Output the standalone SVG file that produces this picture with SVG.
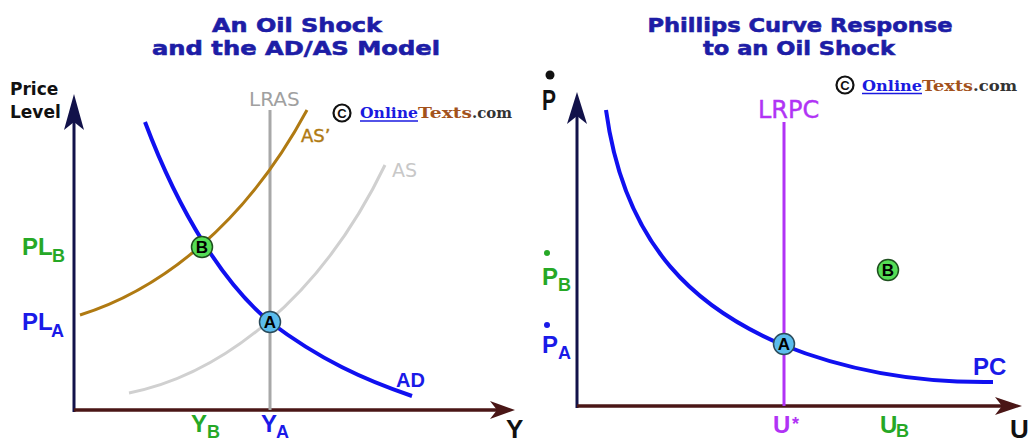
<svg xmlns="http://www.w3.org/2000/svg" width="1032" height="444" viewBox="0 0 1032 444">
<style>
.title{font-family:"DejaVu Sans",Verdana,sans-serif;font-weight:bold;font-size:20px;fill:#1d1da6;stroke:#1d1da6;stroke-width:0.6px;text-anchor:middle}
.lbl{font-family:"Liberation Sans",Arial,sans-serif;font-weight:bold}
.reg{font-family:"DejaVu Sans",Verdana,sans-serif}
.blue{fill:#1a1ae8}
.green{fill:#26a826}
.purple{fill:#b133f5}
.ax-y{stroke:#12124a;stroke-width:3;fill:none}
.ax-x{stroke:#4a1616;stroke-width:3.5;fill:none}
.pt-letter{font-family:"Liberation Sans",Arial,sans-serif;font-weight:bold;font-size:17px;fill:#000;text-anchor:middle}
.copy{font-family:"DejaVu Serif","Liberation Serif",serif;font-weight:bold;font-size:15px}
</style>

<rect width="1032" height="444" fill="#fff"/>

<!-- Titles -->
<g id="title-left">
<text class="title" x="297" y="32" textLength="170" lengthAdjust="spacingAndGlyphs">An Oil Shock</text>
<text class="title" x="296" y="55" textLength="288" lengthAdjust="spacingAndGlyphs">and the AD/AS Model</text>
</g>
<g id="title-right">
<text class="title" x="800" y="32" textLength="305" lengthAdjust="spacingAndGlyphs">Phillips Curve Response</text>
<text class="title" x="799" y="55" textLength="192" lengthAdjust="spacingAndGlyphs">to an Oil Shock</text>
</g>

<!-- Copyright logos -->
<g id="copyright-left">
<circle cx="342" cy="113" r="8.5" fill="none" stroke="#111" stroke-width="2.2"/>
<text x="342" y="118" class="lbl" font-size="13" text-anchor="middle" fill="#111">C</text>
<text class="copy" y="118"><tspan x="360" fill="#1a1ae0" textLength="58" lengthAdjust="spacingAndGlyphs">Online</tspan><tspan x="418" fill="#a3521c" textLength="54" lengthAdjust="spacingAndGlyphs">Texts</tspan><tspan x="472" fill="#333" textLength="40" lengthAdjust="spacingAndGlyphs">.com</tspan></text>
<line x1="360" y1="121" x2="418" y2="121" stroke="#1a1ae0" stroke-width="1.5"/>
</g>
<g id="copyright-right">
<circle cx="845" cy="85" r="8.5" fill="none" stroke="#111" stroke-width="2.2"/>
<text x="845" y="90" class="lbl" font-size="13" text-anchor="middle" fill="#111">C</text>
<text class="copy" y="90.5"><tspan x="862" fill="#1a1ae0" textLength="60" lengthAdjust="spacingAndGlyphs">Online</tspan><tspan x="922" fill="#a3521c" textLength="51" lengthAdjust="spacingAndGlyphs">Texts</tspan><tspan x="973" fill="#333" textLength="44" lengthAdjust="spacingAndGlyphs">.com</tspan></text>
<line x1="862" y1="93.5" x2="922" y2="93.5" stroke="#1a1ae0" stroke-width="1.5"/>
</g>

<!-- LEFT PANEL -->
<g id="left-axes">
<text class="reg" font-weight="bold" font-size="17" x="10" y="95" fill="#111">Price</text>
<text class="reg" font-weight="bold" font-size="17" x="10" y="118" fill="#111">Level</text>
<line class="ax-y" x1="74" y1="412" x2="74" y2="118"/>
<polygon points="74,94 64,130 74,122 84,130" fill="#12124a"/>
<line class="ax-x" x1="74" y1="410" x2="500" y2="410"/>
<polygon points="515,410 490,401 497,410 490,419" fill="#4a1616"/>
<text class="lbl" font-size="26" x="506" y="438" fill="#111" font-weight="normal">Y</text>
</g>

<g id="left-curves">
<line x1="270" y1="110" x2="270" y2="410" stroke="#a8a8a8" stroke-width="3"/>
<path d="M129,393 C220,375 320,300 385,165" fill="none" stroke="#d0d0d0" stroke-width="3"/>
<path d="M80,315 C160,290 245,225 307,110" fill="none" stroke="#b07a12" stroke-width="3"/>
<path d="M145,122 C180,215 225,285 270,322 C320,360 365,380 412,396" fill="none" stroke="#1010f0" stroke-width="4"/>
</g>

<g id="left-labels">
<text class="reg" font-size="20" x="249" y="106" fill="#a0a0a0">LRAS</text>
<text class="reg" font-size="18" x="301" y="142" fill="#b07a12" stroke="#b07a12" stroke-width="0.4">AS’</text>
<text class="reg" font-size="19" x="392" y="177" fill="#c8c8c8">AS</text>
<text class="lbl blue" font-size="20" x="396" y="387">AD</text>
<text class="lbl green" font-size="24"><tspan x="22" y="255">PL</tspan><tspan x="52" y="262" font-size="18">B</tspan></text>
<text class="lbl blue" font-size="24"><tspan x="22" y="330">PL</tspan><tspan x="51" y="337" font-size="18">A</tspan></text>
<text class="lbl green" font-size="24"><tspan x="191" y="432">Y</tspan><tspan x="207" y="438" font-size="18">B</tspan></text>
<text class="lbl blue" font-size="24"><tspan x="261" y="432">Y</tspan><tspan x="276" y="438" font-size="18">A</tspan></text>
</g>

<g id="left-point-B">
<circle cx="202" cy="247" r="10.5" fill="#55dd55" stroke="#1f4f1f" stroke-width="1.5"/>
<text class="pt-letter" x="202" y="253">B</text>
</g>
<g id="left-point-A">
<circle cx="270" cy="322" r="10.5" fill="#5bbcec" stroke="#2a4a5a" stroke-width="1.5"/>
<text class="pt-letter" x="270" y="328">A</text>
</g>

<!-- RIGHT PANEL -->
<g id="right-axes">
<circle cx="550" cy="75" r="4.5" fill="#111"/>
<text class="lbl" font-size="30" x="542" y="110" fill="#111" textLength="14" lengthAdjust="spacingAndGlyphs">P</text>
<line class="ax-y" x1="577" y1="408" x2="577" y2="116"/>
<polygon points="577,92 567,124 577,116 587,124" fill="#12124a"/>
<line class="ax-x" x1="577" y1="406" x2="1005" y2="406"/>
<polygon points="1022,406 995,397 1002,406 995,415" fill="#4a1616"/>
<text class="lbl" font-size="26" x="1010" y="438" fill="#111" font-weight="normal">U</text>
</g>

<g id="right-curves">
<line x1="784" y1="122" x2="784" y2="406" stroke="#b133f5" stroke-width="3"/>
<path d="M606,110 C625,250 700,310 783,345 C850,372 920,383 993,382" fill="none" stroke="#1010f0" stroke-width="4"/>
</g>

<g id="right-labels">
<text class="reg purple" font-size="24" x="758" y="118" stroke="#b133f5" stroke-width="0.4">LRPC</text>
<text class="lbl blue" font-size="24" x="973" y="375">PC</text>
<circle cx="547" cy="253" r="3" fill="#26a826"/>
<text class="lbl green" font-size="24"><tspan x="542" y="285">P</tspan><tspan x="558" y="291" font-size="18">B</tspan></text>
<circle cx="547" cy="325" r="3" fill="#1a1ae8"/>
<text class="lbl blue" font-size="24"><tspan x="542" y="353">P</tspan><tspan x="558" y="359" font-size="18">A</tspan></text>
<text class="lbl purple" font-size="24"><tspan x="773" y="433">U</tspan><tspan x="792" y="430" font-size="18">*</tspan></text>
<text class="lbl green" font-size="24"><tspan x="880" y="433">U</tspan><tspan x="896" y="437" font-size="18">B</tspan></text>
</g>

<g id="right-point-B">
<circle cx="888" cy="270" r="10.5" fill="#55dd55" stroke="#1f4f1f" stroke-width="1.5"/>
<text class="pt-letter" x="888" y="276">B</text>
</g>
<g id="right-point-A">
<circle cx="784" cy="344" r="10.5" fill="#5bbcec" stroke="#2a4a5a" stroke-width="1.5"/>
<text class="pt-letter" x="784" y="350">A</text>
</g>
</svg>
